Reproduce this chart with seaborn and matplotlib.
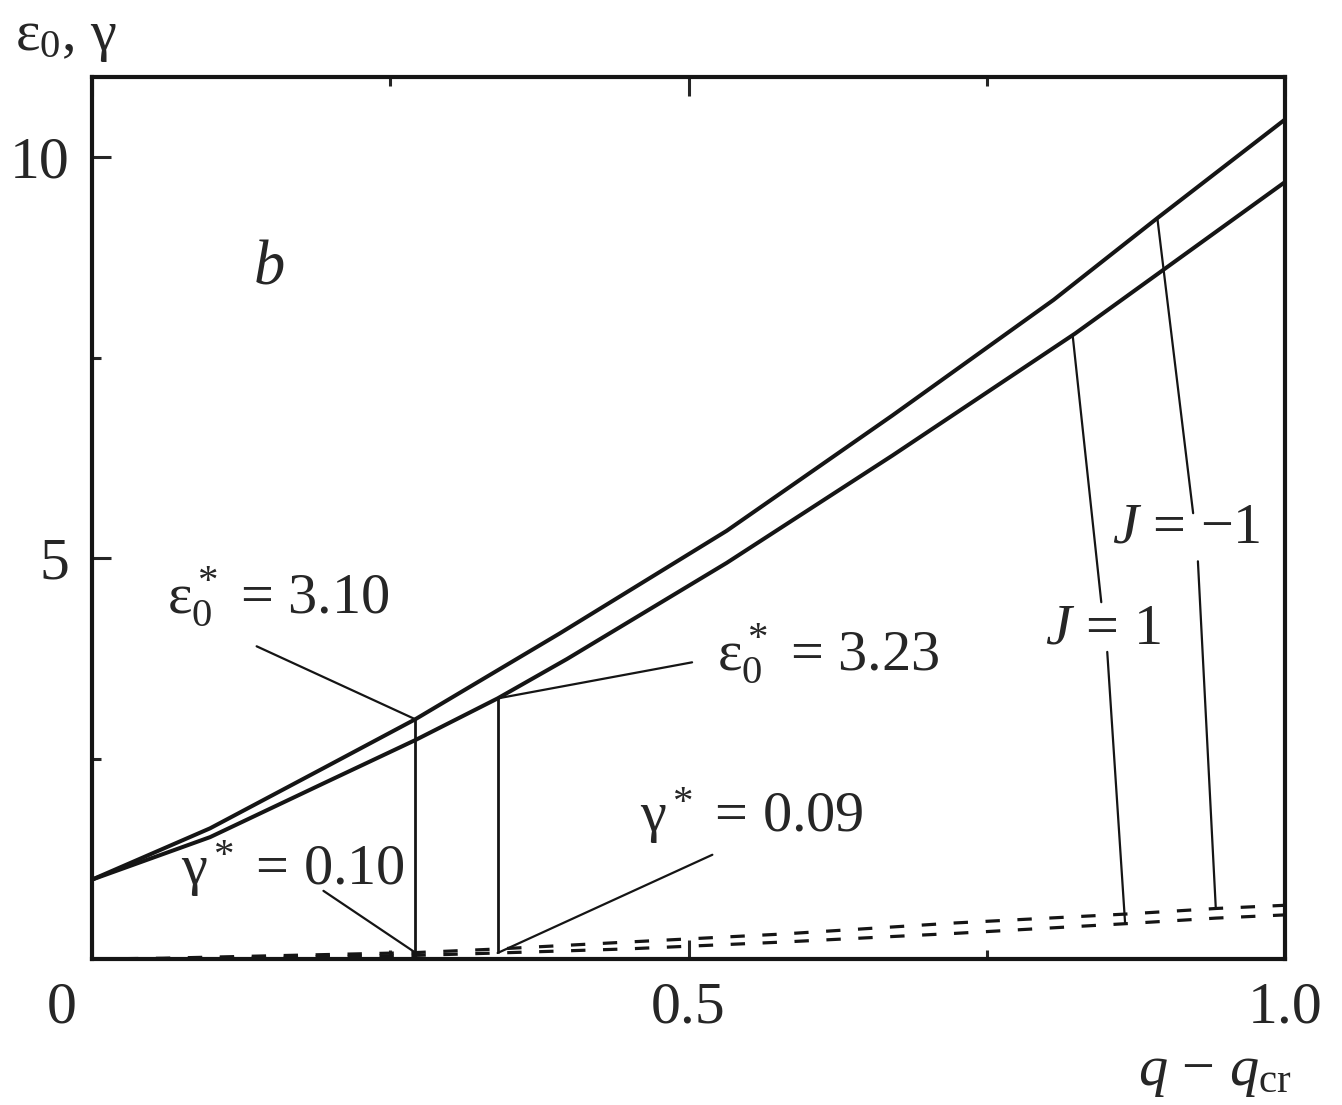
import numpy as np
import pandas as pd
import matplotlib
matplotlib.use("Agg")
import matplotlib.pyplot as plt
import seaborn as sns

# data: q - q_cr on x, eps_0 (solid) and gamma (dashed)
q_eps_m1 = [0.0, 0.099, 0.194, 0.271, 0.392, 0.532, 0.671, 0.806, 0.893, 1.0]
eps_m1 = [0.99, 1.63, 2.38, 2.99, 4.06, 5.34, 6.78, 8.22, 9.24, 10.47]

q_eps_p1 = [0.0, 0.099, 0.194, 0.271, 0.340, 0.398, 0.532, 0.671, 0.824, 1.0]
eps_p1 = [0.99, 1.52, 2.19, 2.73, 3.25, 3.74, 4.94, 6.28, 7.80, 9.69]

q_gam = [0.0, 0.06, 0.15, 0.271, 0.340, 0.447, 0.577, 0.724, 0.866, 0.942, 1.0]
gam_m1 = [0.0, 0.01, 0.04, 0.08, 0.125, 0.21, 0.31, 0.45, 0.56, 0.63, 0.67]
gam_p1 = [0.0, 0.005, 0.02, 0.045, 0.075, 0.125, 0.21, 0.32, 0.44, 0.51, 0.55]

# critical points
q_star_m1 = 0.271
q_star_p1 = 0.340

x_ticks = [0, 0.5, 1.0]
x_ticklabels = ["", "0.5", "1.0"]
y_ticks = [5, 10]
y_ticklabels = ["5", "10"]

sns.set_style("ticks")
plt.rcParams["font.family"] = ["Liberation Serif", "DejaVu Serif"]
plt.rcParams["mathtext.fontset"] = "custom"
plt.rcParams["mathtext.rm"] = "Liberation Serif"
plt.rcParams["mathtext.it"] = "Liberation Serif:italic"
plt.rcParams["mathtext.bf"] = "Liberation Serif:bold"
FS = 42
INK = "#151515"

fig = plt.figure(figsize=(13.42, 11.05), dpi=100)
ax = fig.add_axes([92 / 1342, 1 - 959 / 1105, 1193 / 1342, 882 / 1105])

df_eps = pd.concat([
    pd.DataFrame({"q": q_eps_m1, "v": eps_m1, "J": "-1"}),
    pd.DataFrame({"q": q_eps_p1, "v": eps_p1, "J": "1"}),
])
df_gam = pd.DataFrame({"q": q_gam * 2, "v": gam_m1 + gam_p1,
                       "J": ["-1"] * len(q_gam) + ["1"] * len(q_gam)})

sns.lineplot(data=df_eps, x="q", y="v", units="J", estimator=None,
             color=INK, lw=2.9, ax=ax)
sns.lineplot(data=df_gam, x="q", y="v", units="J", estimator=None,
             color=INK, lw=2.3, linestyle=(0, (4.5, 5.5)), ax=ax)

# vertical markers at the critical points
e_m1 = np.interp(q_star_m1, q_eps_m1, eps_m1)
e_p1 = np.interp(q_star_p1, q_eps_p1, eps_p1)
g_m1 = np.interp(q_star_m1, q_gam, gam_m1)
g_p1 = np.interp(q_star_p1, q_gam, gam_p1)
ax.vlines([q_star_m1, q_star_p1], [0, g_p1], [e_m1, e_p1], color=INK, lw=2.0)

lead = dict(arrowstyle="-", color=INK, lw=1.6, shrinkA=0, shrinkB=0)

def leader(p0, p1):
    ax.annotate("", xy=p0, xytext=p1, arrowprops=lead)

leader((q_star_m1, e_m1), (0.138, 3.90))
ax.text(0.063, 4.31, r"ε$_0^*$ = 3.10", fontsize=FS, ha="left", va="baseline")

leader((q_star_m1, g_m1), (0.194, 0.85))
ax.text(0.075, 0.92, r"γ$^*$ = 0.10", fontsize=FS, ha="left", va="baseline")

leader((q_star_p1, e_p1), (0.503, 3.70))
ax.text(0.524, 3.60, r"ε$_0^*$ = 3.23", fontsize=FS, ha="left", va="baseline")

leader((q_star_p1, g_p1), (0.52, 1.30))
ax.text(0.459, 1.58, r"γ$^*$ = 0.09", fontsize=FS, ha="left", va="baseline")

# J labels
leader((0.893, np.interp(0.893, q_eps_m1, eps_m1)), (0.923, 5.56))
leader((0.927, 4.96), (0.942, np.interp(0.942, q_gam, gam_m1)))
ax.text(0.855, 5.19, "$J$ = \u22121", fontsize=FS, ha="left", va="baseline")

leader((0.822, np.interp(0.822, q_eps_p1, eps_p1)), (0.846, 4.45))
leader((0.851, 3.83), (0.866, np.interp(0.866, q_gam, gam_p1)))
ax.text(0.799, 3.94, "$J$ = 1", fontsize=FS, ha="left", va="baseline")

ax.text(0.149, 8.6, "b", fontsize=FS + 3, style="italic", ha="center", va="center")

ax.set_xlim(0, 1.0)
ax.set_ylim(0, 11)
ax.set_xticks(x_ticks)
ax.set_xticklabels(x_ticklabels)
ax.set_xticks([0.25, 0.75], minor=True)
ax.set_yticks(y_ticks)
ax.set_yticklabels(y_ticklabels)
ax.set_yticks([2.5, 7.5], minor=True)
ax.tick_params(which="major", direction="in", length=14, width=2.2,
               top=True, right=False, pad=16, labelsize=FS + 1)
ax.tick_params(which="minor", direction="in", length=6.5, width=2.2,
               top=True, right=False)
ax.set_xlabel("")
ax.set_ylabel("")
for s in ax.spines.values():
    s.set_linewidth(3.0)
    s.set_color(INK)

# origin label, shared corner
ax.annotate("0", xy=(0, 0), xycoords="axes fraction", xytext=(-21.6, -16),
            textcoords="offset points", ha="center", va="top", fontsize=FS + 1)

fig.text(15 / 1342, 1 - 50 / 1105, r"ε$_0$, γ", fontsize=FS, ha="left", va="baseline")
fig.text(1292 / 1342, 1 - 1085 / 1105, "$q$ \u2212 $q_{\\mathrm{cr}}$", fontsize=FS,
         ha="right", va="baseline")

fig.savefig("out.png", dpi=100)
